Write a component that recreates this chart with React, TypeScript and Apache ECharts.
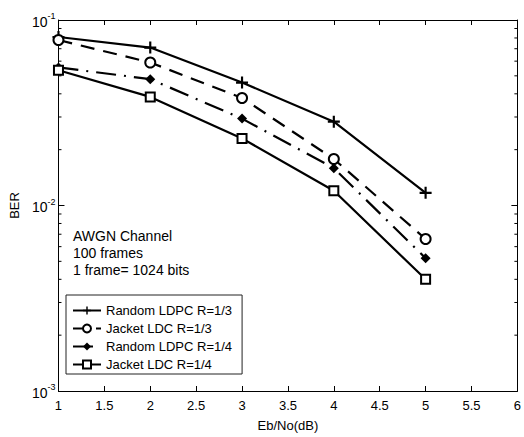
import React, { useEffect, useRef } from "react";
import * as echarts from "echarts";

const ebno = [1, 2, 3, 4, 5];
const randomLdpcR13 = [0.081, 0.071, 0.046, 0.0283, 0.0117];
const jacketLdcR13 = [0.078, 0.059, 0.038, 0.0178, 0.0066];
const randomLdpcR14 = [0.0555, 0.048, 0.0294, 0.0159, 0.0052];
const jacketLdcR14 = [0.0536, 0.0385, 0.023, 0.012, 0.004];
const seriesNames = [
  "Random LDPC R=1/3",
  "Jacket LDC R=1/3",
  "Random LDPC R=1/4",
  "Jacket LDC R=1/4",
];
const minorTickValues = [
  0.002, 0.003, 0.004, 0.005, 0.006, 0.007, 0.008, 0.009,
  0.02, 0.03, 0.04, 0.05, 0.06, 0.07, 0.08, 0.09,
];
const noteLines = ["AWGN Channel", "100 frames", "1 frame= 1024 bits"];

const FONT = "'Liberation Sans', Arial, Helvetica, sans-serif";
const PLUS =
  "path://M-0.9,-5 L0.9,-5 L0.9,-0.9 L5,-0.9 L5,0.9 L0.9,0.9 L0.9,5 L-0.9,5 L-0.9,0.9 L-5,0.9 L-5,-0.9 L-0.9,-0.9 Z";

export default function App() {
  const ref = useRef<HTMLDivElement>(null);
  useEffect(() => {
    document.body.style.margin = "0";
    const chart = echarts.init(ref.current!, null, { renderer: "svg" });
    const pair = (ys: number[]) => ebno.map((x, i) => [x, ys[i]]);
    const supMap: Record<string, string> = { "0.1": "-1", "0.01": "-2", "0.001": "-3" };
    const option: any = {
      animation: false,
      backgroundColor: "#fff",
      textStyle: { fontFamily: FONT },
      grid: { left: 54, right: 3, top: 20, bottom: 41 },
      legend: {
        left: 66,
        top: 295,
        orient: "vertical",
        data: seriesNames,
        itemWidth: 28,
        itemHeight: 10,
        itemGap: 5,
        padding: [9, 10, 3, 6],
        borderColor: "#222",
        borderWidth: 1,
        backgroundColor: "#fff",
        textStyle: { fontFamily: FONT, fontSize: 13, color: "#000" },
        selectedMode: false,
      },
      xAxis: [
        {
          type: "value",
          min: 1,
          max: 6,
          interval: 0.5,
          name: "Eb/No(dB)",
          nameLocation: "middle",
          nameGap: 28,
          nameTextStyle: { fontFamily: FONT, fontSize: 13, color: "#000" },
          axisLine: { show: true, lineStyle: { color: "#000", width: 1 } },
          axisTick: { show: true, inside: true, length: 5, lineStyle: { color: "#000" } },
          axisLabel: {
            color: "#000",
            fontFamily: FONT,
            fontSize: 13,
            margin: 8,
            formatter: (v: number) => String(v),
          },
          splitLine: { show: false },
        },
        {
          type: "value",
          position: "top",
          min: 1,
          max: 6,
          interval: 0.5,
          axisLine: { show: true, lineStyle: { color: "#000", width: 1 } },
          axisTick: { show: true, inside: true, length: 5, lineStyle: { color: "#000" } },
          axisLabel: { show: false },
          splitLine: { show: false },
        },
      ],
      yAxis: [
        {
          type: "log",
          logBase: 10,
          min: 0.001,
          max: 0.1,
          name: "BER",
          nameLocation: "middle",
          nameGap: 36,
          nameTextStyle: { fontFamily: FONT, fontSize: 13, color: "#000" },
          axisLine: { show: true, lineStyle: { color: "#000", width: 1 } },
          axisTick: { show: true, inside: true, length: 6, lineStyle: { color: "#000" } },
          axisLabel: {
            color: "#000",
            fontFamily: FONT,
            margin: 3,
            formatter: (v: number) => {
              const key = String(Number(v.toPrecision(3)));
              return "{b|10}{s|" + (supMap[key] || "") + "}";
            },
            rich: {
              b: { fontSize: 14, fontFamily: FONT, color: "#000", verticalAlign: "bottom", lineHeight: 14 },
              s: { fontSize: 9, fontFamily: FONT, color: "#000", verticalAlign: "top", padding: [0, 0, 8, 0] },
            },
          },
          splitLine: { show: false },
        },
        {
          type: "log",
          logBase: 10,
          min: 0.001,
          max: 0.1,
          position: "right",
          axisLine: { show: true, lineStyle: { color: "#000", width: 1 } },
          axisTick: { show: true, inside: true, length: 6, lineStyle: { color: "#000" } },
          axisLabel: { show: false },
          splitLine: { show: false },
        },
      ],
      graphic: noteLines.map((t, i) => ({
        type: "text",
        left: 73,
        top: 229 + i * 17,
        style: { text: t, font: "14px " + FONT, fill: "#000" },
      })),
      series: [
        {
          type: "custom",
          xAxisIndex: 0,
          yAxisIndex: 0,
          silent: true,
          data: minorTickValues.map((v) => [1, v]),
          renderItem: (params: any, api: any) => {
            const v = api.value(1);
            const l = api.coord([1, v]);
            const r = api.coord([6, v]);
            return {
              type: "group",
              children: [
                { type: "line", shape: { x1: l[0], y1: l[1], x2: l[0] + 3, y2: l[1] }, style: { stroke: "#000", lineWidth: 1 } },
                { type: "line", shape: { x1: r[0], y1: r[1], x2: r[0] - 3, y2: r[1] }, style: { stroke: "#000", lineWidth: 1 } },
              ],
            };
          },
        },
        {
          name: seriesNames[0],
          type: "line",
          data: pair(randomLdpcR13),
          symbol: PLUS,
          symbolSize: 12,
          lineStyle: { color: "#000", width: 2.2, type: "solid" },
          itemStyle: { color: "#000" },
        },
        {
          name: seriesNames[1],
          type: "line",
          data: pair(jacketLdcR13),
          symbol: "emptyCircle",
          symbolSize: 10,
          lineStyle: { color: "#000", width: 2.2, type: [14, 9] },
          itemStyle: { color: "#000", borderWidth: 2 },
        },
        {
          name: seriesNames[2],
          type: "line",
          data: pair(randomLdpcR14),
          symbol: "diamond",
          symbolSize: 10,
          lineStyle: { color: "#000", width: 2.2, type: [20, 8, 2, 8] },
          itemStyle: { color: "#000" },
        },
        {
          name: seriesNames[3],
          type: "line",
          data: pair(jacketLdcR14),
          symbol: "emptyRect",
          symbolSize: 9,
          lineStyle: { color: "#000", width: 2.2, type: "solid" },
          itemStyle: { color: "#000", borderWidth: 1.5 },
        },
      ],
    };
    chart.setOption(option);
    return () => chart.dispose();
  }, []);
  return (
    <div
      ref={ref}
      style={{ position: "fixed", left: 0, top: 0, width: 524, height: 437, background: "#fff" }}
    />
  );
}
